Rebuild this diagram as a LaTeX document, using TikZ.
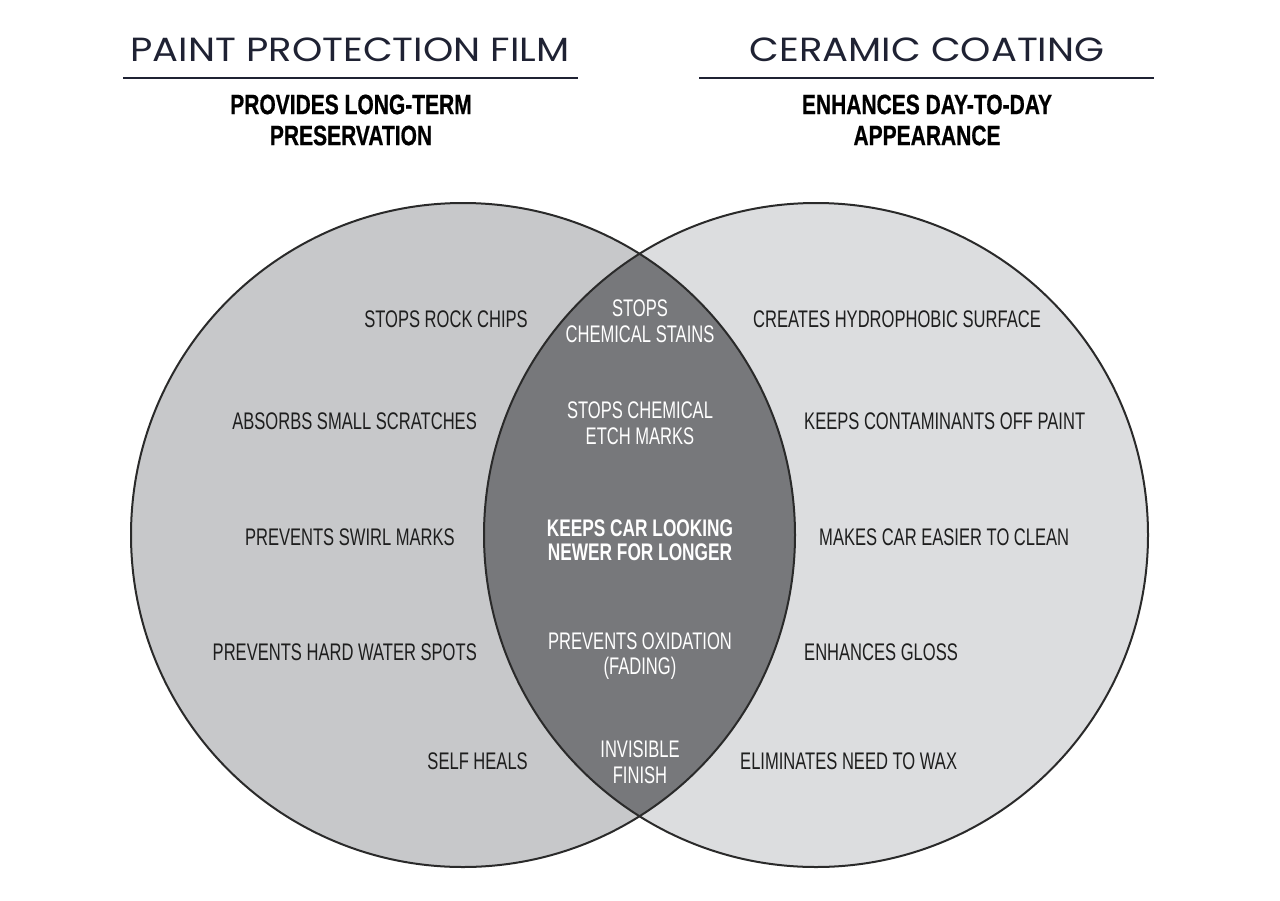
\documentclass[tikz,border=0pt]{standalone}
\usepackage{fontspec}
\newfontfamily\titlef[FakeStretch=1.15]{Poppins}
\newfontfamily\condf[FakeStretch=0.69]{Liberation Sans}
\newfontfamily\condb[FakeStretch=0.72]{Liberation Sans Bold}
\newfontfamily\subf[FakeStretch=0.75,FakeBold=0.6]{Liberation Sans Bold}
\definecolor{leftc}{HTML}{C7C8CA}
\definecolor{rightc}{HTML}{DCDDDF}
\definecolor{lensc}{HTML}{77787B}
\definecolor{outl}{HTML}{2A2A2A}
\definecolor{navy}{HTML}{1F2233}
\definecolor{txt}{HTML}{1E1E1E}
\tikzset{
  title/.style={font=\titlef\fontsize{33.5}{36}\selectfont, text=navy, inner sep=0pt},
  subt/.style={font=\subf\fontsize{28}{31}\selectfont, text=black, align=center, inner sep=0pt},
  item/.style={font=\condf\fontsize{24}{25.5}\selectfont, text=txt, inner sep=0pt},
  lens/.style={font=\condf\fontsize{24}{25.5}\selectfont, text=white, align=center, inner sep=0pt},
  lensb/.style={font=\condb\fontsize{24}{23.5}\selectfont, text=white, align=center, inner sep=0pt},
  rule/.style={draw=navy, line width=1.5pt},
  ring/.style={draw=outl, line width=2pt}
}
\begin{document}
\begin{tikzpicture}[x=1pt,y=-1pt]
\useasboundingbox (0,0) rectangle (1280,900);
% circles
\fill[leftc] (463,535) circle (332);
\fill[rightc] (816,535) circle (332);
\begin{scope}
  \clip (463,535) circle (332);
  \fill[lensc] (816,535) circle (332);
\end{scope}
\draw[ring] (463,535) circle (332);
\draw[ring] (816,535) circle (332);
% titles
\node[title] (t1) at (350,50) {PAINT PROTECTION FILM};
\node[title] (t2) at (927,50) {CERAMIC COATING};
\coordinate (l1a) at (123,78); \coordinate (l1b) at (578,78);
\coordinate (l2a) at (699,78); \coordinate (l2b) at (1154,78);
\draw[rule] (l1a) -- (l1b);
\draw[rule] (l2a) -- (l2b);
\node[subt] (s1) at (351,120) {PROVIDES LONG-TERM\\PRESERVATION};
\node[subt] (s2) at (927,120) {ENHANCES DAY-TO-DAY\\APPEARANCE};
% left items
\node[item, anchor=east] (a1) at (528,319) {STOPS ROCK CHIPS};
\node[item, anchor=east] (a2) at (477,421) {ABSORBS SMALL SCRATCHES};
\node[item, anchor=east] (a3) at (455,537) {PREVENTS SWIRL MARKS};
\node[item, anchor=east] (a4) at (477,652) {PREVENTS HARD WATER SPOTS};
\node[item, anchor=east] (a5) at (528,761) {SELF HEALS};
% right items
\node[item, anchor=west] (b1) at (753,319) {CREATES HYDROPHOBIC SURFACE};
\node[item, anchor=west] (b2) at (804,421) {KEEPS CONTAMINANTS OFF PAINT};
\node[item, anchor=west] (b3) at (819,537) {MAKES CAR EASIER TO CLEAN};
\node[item, anchor=west] (b4) at (804,652) {ENHANCES GLOSS};
\node[item, anchor=west] (b5) at (740,761) {ELIMINATES NEED TO WAX};
% lens items
\node[lens] (c1) at (640,321) {STOPS\\CHEMICAL STAINS};
\node[lens] (c2) at (640,423) {STOPS CHEMICAL\\ETCH MARKS};
\node[lensb] (c3) at (640,540) {KEEPS CAR LOOKING\\NEWER FOR LONGER};
\node[lens] (c4) at (640,656) {PREVENTS OXIDATION\\(FADING)};
\node[lens] (c5) at (640,762) {INVISIBLE\\FINISH};
\end{tikzpicture}
\end{document}
